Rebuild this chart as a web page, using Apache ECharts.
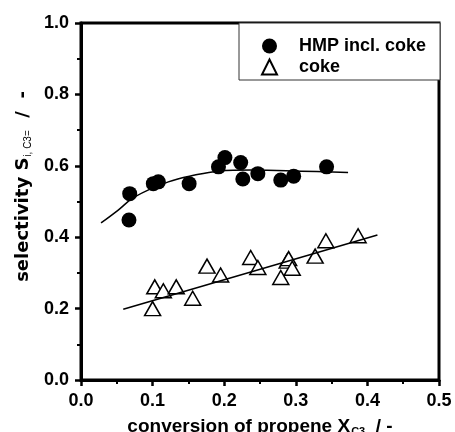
<!DOCTYPE html>
<html>
<head>
<meta charset="utf-8">
<script src="https://cdn.jsdelivr.net/npm/echarts@6/dist/echarts.min.js"></script>
<style>
  html, body { margin: 0; padding: 0; background: #fff; }
  #chart { width: 455px; height: 432px; }
</style>
</head>
<body>
<div id="chart"></div>
<script>
// measured points
var hmpX = [0.067, 0.068, 0.101, 0.108, 0.151, 0.192, 0.201, 0.223, 0.226, 0.247, 0.279, 0.297, 0.343];
var hmpY = [0.448, 0.522, 0.550, 0.555, 0.550, 0.597, 0.623, 0.609, 0.563, 0.578, 0.560, 0.571, 0.597];

var cokeX = [0.100, 0.103, 0.115, 0.133, 0.156, 0.176, 0.195, 0.237, 0.247, 0.279, 0.288, 0.290, 0.295, 0.327, 0.342, 0.387];
var cokeY = [0.200, 0.261, 0.250, 0.261, 0.229, 0.319, 0.294, 0.343, 0.315, 0.287, 0.333, 0.340, 0.313, 0.347, 0.390, 0.404];

// fit lines
var hmpFitX = [0.028, 0.052, 0.075, 0.122, 0.159, 0.192, 0.238, 0.308, 0.373];
var hmpFitY = [0.440, 0.476, 0.513, 0.555, 0.574, 0.585, 0.588, 0.585, 0.581];
var cokeFitX = [0.059, 0.414];
var cokeFitY = [0.198, 0.406];

var xTicks = [0, 0.1, 0.2, 0.3, 0.4, 0.5];
var yTicks = [0, 0.2, 0.4, 0.6, 0.8, 1.0];

function pairs(xs, ys) {
    var out = [];
    for (var i = 0; i < xs.length; i++) {
        out.push([xs[i], ys[i]]);
    }
    return out;
}

var font = 'Liberation Sans, Arial, Helvetica, sans-serif';
var wideFont = 'DejaVu Sans, Verdana, sans-serif';

var chart = echarts.init(document.getElementById('chart'), null, { renderer: 'canvas' });

function axisBase(ticks) {
    return {
        type: 'value',
        min: ticks[0],
        max: ticks[ticks.length - 1],
        interval: ticks[1] - ticks[0],
        splitLine: { show: false },
        axisLine: { show: true, lineStyle: { color: '#000', width: 3 } },
        axisTick: { show: true, length: 6, lineStyle: { color: '#000', width: 2.5 } },
        minorTick: { show: true, splitNumber: 2, length: 4, lineStyle: { color: '#000', width: 2 } },
        axisLabel: {
            color: '#000',
            fontFamily: font,
            fontWeight: 'bold',
            fontSize: 18,
            margin: 12,
            formatter: function (v) { return v.toFixed(1); }
        }
    };
}

var xAxis = axisBase(xTicks);
xAxis.name = '{m|conversion of propene X}{s|C3}{m|  / -}';
xAxis.nameLocation = 'middle';
xAxis.nameGap = 36;
xAxis.nameTextStyle = {
    color: '#000',
    rich: {
        m: { fontFamily: font, fontWeight: 'bold', fontSize: 19, color: '#000' },
        s: { fontFamily: font, fontWeight: 'bold', fontSize: 11, color: '#000', padding: [10, 0, 0, 1] }
    }
};

var yAxis = axisBase(yTicks);
yAxis.name = '{a|selectivity S}{s|i, C3=}{m|  /  -}';
yAxis.nameLocation = 'middle';
yAxis.nameRotate = 90;
yAxis.nameGap = 46;
yAxis.nameTextStyle = {
    color: '#000',
    rich: {
        a: { fontFamily: wideFont, fontWeight: 'bold', fontSize: 18, color: '#000', padding: [0, 0, 0, 30] },
        m: { fontFamily: wideFont, fontWeight: 'bold', fontSize: 18, color: '#000' },
        s: { fontFamily: font, fontSize: 10, color: '#000', padding: [10, 0, 0, 1] }
    }
};

chart.setOption({
    backgroundColor: '#fff',
    animation: false,
    grid: {
        left: 81,
        right: 16,
        top: 23,
        bottom: 52,
        show: true,
        borderColor: '#000',
        borderWidth: 3,
        containLabel: false,
        outerBoundsMode: 'none'
    },
    legend: {
        orient: 'vertical',
        left: 239,
        top: 23,
        padding: [14, 14, 4, 22],
        itemWidth: 15,
        itemHeight: 15,
        itemGap: 3,
        borderColor: '#333',
        borderWidth: 1,
        backgroundColor: '#fff',
        formatter: function (name) { return '{t|' + name + '}'; },
        textStyle: {
            fontFamily: font, fontWeight: 'bold', fontSize: 18, color: '#000',
            rich: {
                t: { fontFamily: font, fontWeight: 'bold', fontSize: 18, color: '#000', padding: [0, 0, 0, 17] }
            }
        },
        data: ['HMP incl. coke', 'coke']
    },
    xAxis: xAxis,
    yAxis: yAxis,
    series: [
        {
            name: 'HMP incl. coke',
            type: 'scatter',
            symbol: 'circle',
            symbolSize: 15,
            itemStyle: { color: '#000', opacity: 1 },
            data: pairs(hmpX, hmpY),
            z: 2
        },
        {
            name: 'coke',
            type: 'scatter',
            symbol: 'triangle',
            symbolSize: [16, 14],
            itemStyle: { color: '#fff', borderColor: '#000', borderWidth: 1.5, opacity: 1 },
            data: pairs(cokeX, cokeY),
            z: 2
        },
        {
            name: 'fitHmp',
            type: 'line',
            smooth: 0.4,
            showSymbol: false,
            lineStyle: { color: '#000', width: 1.5 },
            data: pairs(hmpFitX, hmpFitY),
            z: 3
        },
        {
            name: 'fitCoke',
            type: 'line',
            showSymbol: false,
            lineStyle: { color: '#000', width: 1.5 },
            data: pairs(cokeFitX, cokeFitY),
            z: 3
        }
    ]
});
</script>
</body>
</html>
